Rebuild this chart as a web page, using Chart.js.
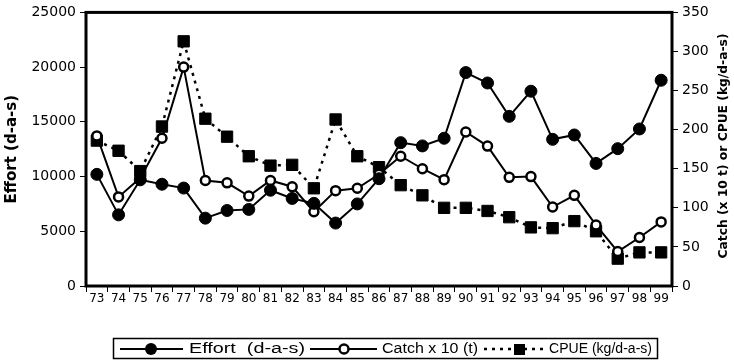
<!DOCTYPE html>
<html>
<head>
<meta charset="utf-8">
<script src="https://cdn.jsdelivr.net/npm/chart.js@4/dist/chart.umd.min.js"></script>
<style>
html,body{margin:0;padding:0;background:#fff;}
#wrap{position:relative;width:734px;height:363px;}
</style>
</head>
<body>
<div id="wrap"><canvas id="c" width="734" height="363"></canvas></div>
<script>
const years = ['73','74','75','76','77','78','79','80','81','82','83','84','85','86','87','88','89','90','91','92','93','94','95','96','97','98','99'];
const effort = [10200,6500,9700,9300,8950,6200,6900,7000,8750,8000,7550,5750,7500,9800,13100,12800,13500,19500,18550,15500,17800,13400,13800,11200,12550,14350,18800];
const catchX10 = [192,114,138,189,280,135,132,115,135,127,95,122,125,143,166,150,136,197,179,139,140,101,116,78,44,62,82];
const cpue = [186,173,147,204,313,214,191,166,154,155,125,213,166,152,129,116,100,100,96,88,75,74,83,70,35,43,43];
const leftTicks = [0,5000,10000,15000,20000,25000];
const rightTicks = [0,50,100,150,200,250,300,350];
const legendLabels = ['Effort  (d-a-s)','Catch x 10 (t)','CPUE (kg/d-a-s)'];
const leftTitle = 'Effort (d-a-s)';
const rightTitle = 'Catch (x 10 t) or CPUE (kg/d-a-s)';

const boxPlugin = {
  id:'box',
  beforeDatasetsDraw(chart){
    const {ctx, chartArea:a} = chart;
    ctx.save();
    ctx.strokeStyle = '#000';
    ctx.lineWidth = 3;
    ctx.strokeRect(a.left, a.top, a.right - a.left, a.bottom - a.top);
    ctx.restore();
  },
  afterDraw(chart){
    const ctx = chart.ctx;
    ctx.save();
    // right title, reading bottom-up
    ctx.translate(724, 146);
    ctx.rotate(-Math.PI/2);
    ctx.font = 'bold 12px "DejaVu Sans"';
    ctx.fillStyle = '#000';
    ctx.textAlign = 'center';
    ctx.textBaseline = 'middle';
    const tw = ctx.measureText(rightTitle).width;
    ctx.scale(225 / tw, 1);
    ctx.fillText(rightTitle, 0, 0);
    ctx.restore();

    // legend
    ctx.save();
    ctx.strokeStyle = '#000';
    ctx.lineWidth = 1.5;
    ctx.strokeRect(113.5, 338.5, 544, 20);
    const y = 349;
    ctx.lineWidth = 2;
    // effort sample
    ctx.beginPath(); ctx.moveTo(120, y); ctx.lineTo(183, y); ctx.stroke();
    ctx.beginPath(); ctx.arc(151, y, 6, 0, Math.PI*2); ctx.fillStyle='#000'; ctx.fill();
    // catch sample
    ctx.beginPath(); ctx.moveTo(310, y); ctx.lineTo(377, y); ctx.stroke();
    ctx.beginPath(); ctx.arc(344, y, 4.5, 0, Math.PI*2); ctx.fillStyle='#fff'; ctx.fill(); ctx.lineWidth=2.5; ctx.stroke();
    // cpue sample
    ctx.lineWidth = 2.5;
    ctx.setLineDash([3,5]);
    ctx.beginPath(); ctx.moveTo(484, y); ctx.lineTo(546, y); ctx.stroke();
    ctx.setLineDash([]);
    ctx.fillStyle='#000';
    ctx.fillRect(514, y-5, 11, 11);
    // texts
    ctx.font = '14px "Liberation Sans"';
    ctx.textBaseline = 'middle';
    ctx.textAlign = 'left';
    const drawFit = (t, x0, x1) => {
      const w = ctx.measureText(t).width;
      ctx.save();
      ctx.translate(x0, y);
      ctx.scale((x1 - x0)/w, 1);
      ctx.fillText(t, 0, 0);
      ctx.restore();
    };
    drawFit(legendLabels[0], 189, 305);
    drawFit(legendLabels[1], 382, 478);
    drawFit(legendLabels[2], 549, 652);
    ctx.restore();
  }
};

new Chart(document.getElementById('c'), {
  type:'line',
  data:{
    labels: years,
    datasets:[
      {label:legendLabels[0], data:effort, yAxisID:'y', borderColor:'#000', borderWidth:2,
       pointStyle:'circle', pointRadius:6, pointBackgroundColor:'#000', pointBorderColor:'#000', pointBorderWidth:1, tension:0},
      {label:legendLabels[1], data:catchX10, yAxisID:'y1', borderColor:'#000', borderWidth:2,
       pointStyle:'circle', pointRadius:4.5, pointBackgroundColor:'#fff', pointBorderColor:'#000', pointBorderWidth:2.5, tension:0},
      {label:legendLabels[2], data:cpue, yAxisID:'y1', borderColor:'#000', borderWidth:2.5, borderDash:[3,5],
       pointStyle:'rect', pointRadius:8, pointBackgroundColor:'#000', pointBorderColor:'#000', pointBorderWidth:1, tension:0}
    ]
  },
  options:{
    responsive:false,
    animation:false,
    events:[],
    layout:{padding:{top:7, bottom:47, left:0, right:0}},
    plugins:{legend:{display:false}, tooltip:{enabled:false}},
    scales:{
      x:{
        type:'category', offset:true,
        grid:{offset:true, drawOnChartArea:false, drawTicks:true, tickLength:6, color:'#000', tickColor:'#000', tickWidth:1},
        border:{display:false},
        ticks:{color:'#000', font:{family:'DejaVu Sans', size:12}, padding:0, maxRotation:0, autoSkip:false},
        afterFit(s){ s.height = 30; }
      },
      y:{
        position:'left', min:0, max:25000,
        afterBuildTicks(s){ s.ticks = leftTicks.map(v=>({value:v})); },
        grid:{drawOnChartArea:false, drawTicks:true, tickLength:6, color:'#000', tickColor:'#000', tickWidth:1},
        border:{display:false},
        ticks:{color:'#000', font:{family:'DejaVu Sans', size:14}, padding:4, callback:v=>String(v)},
        title:{display:true, text:leftTitle, color:'#000', font:{family:'DejaVu Sans', size:15, weight:'bold'}, padding:{top:3,bottom:0}},
        afterFit(s){ s.width = 86; }
      },
      y1:{
        position:'right', min:0, max:350,
        afterBuildTicks(s){ s.ticks = rightTicks.map(v=>({value:v})); },
        grid:{drawOnChartArea:false, drawTicks:true, tickLength:6, color:'#000', tickColor:'#000', tickWidth:1},
        border:{display:false},
        ticks:{color:'#000', font:{family:'DejaVu Sans', size:14}, padding:4, callback:v=>String(v)},
        afterFit(s){ s.width = 62; }
      }
    }
  },
  plugins:[boxPlugin]
});
</script>
</body>
</html>
